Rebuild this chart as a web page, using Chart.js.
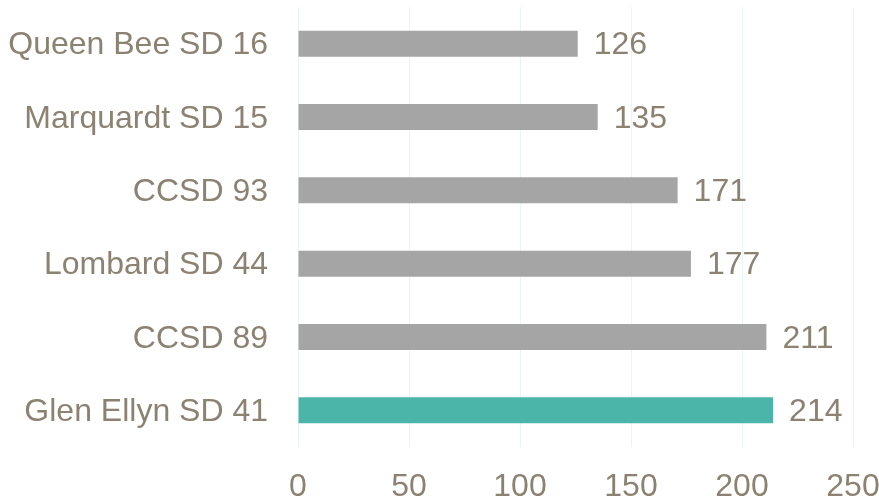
<!DOCTYPE html>
<html>
<head>
<meta charset="utf-8">
<script src="https://cdn.jsdelivr.net/npm/chart.js@4/dist/chart.umd.min.js"></script>
<style>
  html, body { margin: 0; padding: 0; background: #fff; }
  #wrap { width: 879px; height: 502px; }
</style>
</head>
<body>
<div id="wrap"><canvas id="chart" width="879" height="502"></canvas></div>
<script>
const districts = ['Queen Bee SD 16', 'Marquardt SD 15', 'CCSD 93', 'Lombard SD 44', 'CCSD 89', 'Glen Ellyn SD 41'];
const values = [126, 135, 171, 177, 211, 214];
const xTicks = [0, 50, 100, 150, 200, 250];
const highlight = 'Glen Ellyn SD 41';

const textColor = '#8c8271';
const barColors = districts.map(d => d === highlight ? '#4bb5aa' : '#a5a5a5');

// draws the value just past the end of each bar
const valueLabels = {
    id: 'valueLabels',
    afterDatasetsDraw(chart) {
        const ctx = chart.ctx;
        const meta = chart.getDatasetMeta(0);
        ctx.save();
        ctx.font = '32px "Liberation Sans", Arial, sans-serif';
        ctx.fillStyle = textColor;
        ctx.textAlign = 'left';
        ctx.textBaseline = 'middle';
        meta.data.forEach((bar, i) => {
            ctx.fillText(values[i], bar.x + 16, bar.y + 2);
        });
        ctx.restore();
    }
};

new Chart(document.getElementById('chart'), {
    type: 'bar',
    data: {
        labels: districts,
        datasets: [{
            data: values,
            backgroundColor: barColors,
            borderWidth: 0,
            barPercentage: 0.71,
            categoryPercentage: 0.5
        }]
    },
    options: {
        indexAxis: 'y',
        responsive: false,
        animation: false,
        layout: { padding: { top: 7, right: 26, left: 0, bottom: 0 } },
        plugins: {
            legend: { display: false },
            tooltip: { enabled: false }
        },
        scales: {
            x: {
                min: 0,
                max: 250,
                afterBuildTicks: axis => { axis.ticks = xTicks.map(v => ({ value: v })); },
                afterFit: axis => {
                    axis.height = 55;
                    axis.paddingLeft = 0;
                    axis.paddingRight = 0;
                },
                grid: { color: '#e8f5f1', drawTicks: false },
                border: { display: false },
                ticks: {
                    color: textColor,
                    padding: 21,
                    maxRotation: 0,
                    font: { family: '"Liberation Sans", Arial, sans-serif', size: 32 }
                }
            },
            y: {
                afterFit: axis => {
                    axis.width = 298;
                    axis.paddingTop = 0;
                    axis.paddingBottom = 0;
                },
                grid: { display: false, drawTicks: false },
                border: { display: false },
                ticks: {
                    color: textColor,
                    padding: 30,
                    labelOffset: 2,
                    font: { family: '"Liberation Sans", Arial, sans-serif', size: 32 }
                }
            }
        }
    },
    plugins: [valueLabels]
});
</script>
</body>
</html>
